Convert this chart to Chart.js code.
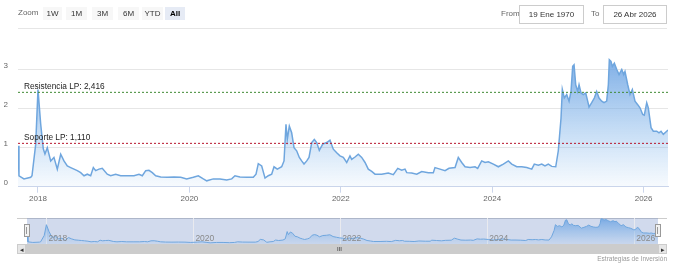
<!DOCTYPE html>
<html><head><meta charset="utf-8">
<script src="https://cdn.jsdelivr.net/npm/chart.js@4.4.1/dist/chart.umd.min.js"></script>
<style>
html,body{margin:0;padding:0;background:#fff;}
body{width:676px;height:267px;position:relative;overflow:hidden;font-family:"Liberation Sans",Arial,sans-serif;}
#main{position:absolute;left:0;top:0;}
#nav{position:absolute;left:27px;top:218px;}
.t{position:absolute;font-size:8px;color:#666;white-space:nowrap;}
.btn{position:absolute;top:7px;height:13px;line-height:13px;background:#f7f7f7;font-size:8px;color:#333;text-align:center;}
.btn.sel{background:#e6ebf5;color:#000;font-weight:bold;}
.box{position:absolute;top:5px;height:17px;line-height:17px;border:1px solid #cccccc;font-size:8px;color:#333;text-align:center;background:#fff;}
.sep{position:absolute;left:18px;top:28px;width:649px;height:1px;background:#e6e6e6;}
.navtop{position:absolute;left:17px;top:218px;width:650px;height:1px;background:#cccccc;}
.handle{position:absolute;top:224px;width:4px;height:11px;background:#f2f2f2;border:1px solid #999;}
.handle i{position:absolute;top:2px;width:1px;height:7px;background:#999;}
.sb{position:absolute;top:244px;height:10px;}
.credit{position:absolute;right:9px;top:255px;font-size:6.5px;color:#999;}
</style></head>
<body>
<canvas id="main" width="676" height="267"></canvas>
<div class="t" style="left:18px;top:8px;">Zoom</div>
<div class="btn" style="left:43px;width:19px;">1W</div>
<div class="btn" style="left:66px;width:21px;">1M</div>
<div class="btn" style="left:92px;width:21px;">3M</div>
<div class="btn" style="left:118px;width:21px;">6M</div>
<div class="btn" style="left:142px;width:21px;">YTD</div>
<div class="btn sel" style="left:165px;width:20px;">All</div>
<div class="t" style="left:501px;top:9px;">From</div>
<div class="box" style="left:519px;width:63px;">19 Ene 1970</div>
<div class="t" style="left:591px;top:9px;">To</div>
<div class="box" style="left:603px;width:62px;">26 Abr 2026</div>
<div class="sep"></div>
<div class="navtop"></div>
<canvas id="nav" width="631" height="26"></canvas>
<div class="handle" style="left:24px;"><i style="left:1px"></i></div>
<div class="handle" style="left:655px;"><i style="left:1px"></i></div>
<div class="sb" style="left:17px;width:650px;background:#cccccc;"></div>
<div class="sb" style="left:17px;width:9px;background:#e6e6e6;border:1px solid #cccccc;box-sizing:border-box;font-size:7px;line-height:9px;text-align:center;color:#333;">&#9666;</div>
<div class="sb" style="left:658px;width:9px;background:#e6e6e6;border:1px solid #cccccc;box-sizing:border-box;font-size:7px;line-height:9px;text-align:center;color:#333;">&#9656;</div>
<div class="sb" style="left:337px;width:8px;font-size:6px;line-height:10px;color:#333;">III</div>
<div class="credit">Estrategias de Inversión</div>
<script>
// ---- data (decimal years) ----
const dates = [2017.736,2017.749,2017.815,2017.904,2017.921,2017.970,
2018.000,2018.036,2018.070,2018.092,2018.123,2018.168,2018.211,2018.255,2018.300,2018.343,2018.387,2018.432,2018.476,2018.519,2018.564,2018.608,2018.651,2018.696,2018.731,2018.762,2018.806,2018.849,2018.915,2018.960,
2019.026,2019.092,2019.180,2019.268,2019.334,2019.378,2019.423,2019.466,2019.510,2019.555,2019.621,2019.708,2019.797,2019.885,2019.964,
2020.052,2020.118,2020.184,2020.229,2020.316,2020.404,2020.493,2020.559,2020.602,2020.668,2020.757,2020.844,2020.880,2020.910,2020.955,2020.999,
2021.042,2021.087,2021.118,2021.161,2021.219,2021.250,2021.276,2021.293,2021.320,2021.351,2021.382,2021.417,2021.452,2021.483,2021.514,2021.550,2021.580,2021.616,2021.650,2021.682,2021.716,2021.761,2021.814,2021.857,2021.901,2021.946,2021.989,
2022.033,2022.078,2022.121,2022.144,2022.188,2022.231,2022.276,2022.320,2022.363,2022.408,2022.452,2022.540,2022.627,2022.694,2022.752,2022.804,2022.848,2022.871,2022.937,
2023.003,2023.069,2023.156,2023.222,2023.244,2023.310,2023.377,2023.429,2023.509,2023.552,2023.597,2023.641,2023.707,2023.773,2023.808,2023.861,2023.905,2023.949,
2024.015,2024.081,2024.147,2024.213,2024.258,2024.324,2024.390,2024.456,2024.522,2024.556,2024.609,2024.654,2024.697,2024.741,2024.786,2024.839,2024.873,2024.909,2024.926,2024.952,2024.984,
2025.015,2025.041,2025.063,2025.081,2025.103,2025.129,2025.147,2025.173,2025.203,2025.235,2025.261,2025.279,2025.314,2025.349,2025.380,2025.411,2025.446,2025.477,2025.512,2025.534,2025.547,2025.569,2025.587,2025.613,2025.645,2025.675,2025.711,2025.737,2025.754,2025.790,2025.820,2025.851,2025.886,2025.922,2025.952,2025.988,
2026.009,2026.041,2026.062,2026.098,2026.128,2026.173,2026.203,2026.230,2026.260,2026.305,2026.322];
const values = [1.05,0.28,0.20,0.24,0.28,1.09,
2.49,1.60,0.97,0.84,1.00,0.66,0.75,0.45,0.83,0.66,0.53,0.49,0.45,0.41,0.36,0.28,0.32,0.28,0.49,0.41,0.45,0.47,0.32,0.28,
0.32,0.28,0.28,0.28,0.32,0.28,0.41,0.42,0.36,0.28,0.25,0.24,0.25,0.24,0.20,
0.24,0.28,0.20,0.15,0.20,0.20,0.17,0.20,0.28,0.25,0.24,0.24,0.32,0.59,0.53,0.22,
0.28,0.32,0.51,0.45,0.51,0.66,1.60,1.21,1.55,1.38,1.00,0.92,0.75,0.66,0.58,0.66,0.75,1.13,1.21,1.13,0.93,1.09,1.13,1.19,0.96,0.87,0.79,
0.75,0.62,0.79,0.70,0.76,0.83,0.75,0.62,0.45,0.39,0.32,0.32,0.35,0.31,0.47,0.42,0.45,0.36,0.35,
0.32,0.39,0.36,0.36,0.49,0.45,0.41,0.47,0.49,0.75,0.62,0.51,0.49,0.51,0.47,0.66,0.62,0.64,
0.58,0.51,0.58,0.66,0.58,0.51,0.51,0.49,0.45,0.58,0.55,0.58,0.53,0.58,0.52,0.51,0.92,1.76,2.49,2.27,2.36,
2.19,2.44,3.08,3.12,2.61,2.44,2.61,2.40,2.36,2.40,2.19,2.04,2.15,2.27,2.44,2.27,2.19,2.15,2.19,2.61,3.25,3.21,3.08,3.16,3.00,2.87,3.00,2.87,2.95,2.61,2.36,2.49,2.19,2.10,2.02,1.85,
1.83,2.15,2.02,1.51,1.42,1.42,1.38,1.42,1.34,1.42,1.45];
const yearTicks = [2018, 2020, 2022, 2024, 2026];
const yTicks = [0, 1, 2, 3];
const resistance = 2.416;
const support = 1.110;
const resistanceLabel = "Resistencia LP";
const supportLabel = "Soporte LP";

const xMin = dates[0], xMax = dates[dates.length - 1];
const points = dates.map((d, i) => ({x: d, y: values[i]}));
const fmt = v => v.toFixed(3).replace('.', ',');

function areaGradient(c, top, bottom) {
  const {chart} = c; const {ctx, chartArea} = chart;
  if (!chartArea) return 'rgba(124,181,236,0.4)';
  const g = ctx.createLinearGradient(0, chartArea.top, 0, chartArea.bottom);
  g.addColorStop(0, top); g.addColorStop(1, bottom);
  return g;
}

const lineLabels = {
  id: 'lineLabels',
  afterDatasetsDraw(chart) {
    const {ctx, chartArea, scales} = chart;
    ctx.save();
    ctx.font = '8.3px "Liberation Sans", Arial, sans-serif';
    ctx.fillStyle = '#222';
    ctx.textBaseline = 'alphabetic';
    ctx.fillText(resistanceLabel + ': ' + fmt(resistance), chartArea.left + 6, scales.y.getPixelForValue(resistance) - 3);
    ctx.fillText(supportLabel + ': ' + fmt(support), chartArea.left + 6, scales.y.getPixelForValue(support) - 3);
    ctx.restore();
  }
};

new Chart(document.getElementById('main'), {
  type: 'line',
  data: {
    datasets: [
      {data: points, borderColor: 'rgb(111,166,222)', borderWidth: 1.5, pointRadius: 0, tension: 0, fill: 'origin',
       backgroundColor: c => areaGradient(c, 'rgba(105,160,225,0.92)', 'rgba(124,181,236,0.06)'), order: 2},
      {data: [{x: xMin, y: resistance}, {x: xMax, y: resistance}], borderColor: '#3f8a34', borderWidth: 1, borderDash: [2, 2], pointRadius: 0, fill: false, order: 1},
      {data: [{x: xMin, y: support}, {x: xMax, y: support}], borderColor: '#b8142c', borderWidth: 1, borderDash: [2, 2], pointRadius: 0, fill: false, order: 1}
    ]
  },
  options: {
    responsive: false, animation: false, events: [],
    layout: {padding: {left: 4, right: 8, top: 50, bottom: 56.3}},
    plugins: {legend: {display: false}, tooltip: {enabled: false}},
    scales: {
      x: {type: 'linear', min: xMin, max: xMax,
        afterBuildTicks: s => { s.ticks = yearTicks.map(v => ({value: v})); },
        afterFit: s => { s.height = 24; },
        grid: {display: true, drawOnChartArea: false, drawTicks: true, tickLength: 6, color: '#ccd6eb'},
        border: {display: true, color: '#ccd6eb'},
        ticks: {autoSkip: false, maxRotation: 0, padding: 1, color: '#666', font: {size: 8, family: '"Liberation Sans", Arial, sans-serif'}, callback: v => String(v)}
      },
      y: {type: 'linear', min: 0, max: 3.5,
        afterBuildTicks: s => { s.ticks = yTicks.map(v => ({value: v})); },
        afterFit: s => { s.width = 14; },
        grid: {color: '#e6e6e6', drawTicks: false},
        border: {display: false},
        ticks: {padding: 10, labelOffset: -4, color: '#666', font: {size: 8, family: '"Liberation Sans", Arial, sans-serif'}, callback: v => String(v)}
      }
    }
  },
  plugins: [lineLabels]
});

const navDecor = {
  id: 'navDecor',
  beforeDraw(chart) {
    const {ctx, chartArea} = chart;
    ctx.save();
    ctx.fillStyle = 'rgba(102,133,194,0.3)';
    ctx.fillRect(chartArea.left, chartArea.top, chartArea.right - chartArea.left, chartArea.bottom - chartArea.top);
    ctx.restore();
  },
  afterDatasetsDraw(chart) {
    const {ctx, scales} = chart;
    ctx.save();
    ctx.font = '8.5px "Liberation Sans", Arial, sans-serif';
    ctx.fillStyle = '#8a8a8a';
    yearTicks.forEach(t => { ctx.fillText(String(t), scales.x.getPixelForValue(t) + 2, 23); });
    ctx.restore();
  }
};

new Chart(document.getElementById('nav'), {
  type: 'line',
  data: {datasets: [{data: points, borderColor: 'rgb(111,166,222)', borderWidth: 1, pointRadius: 0, tension: 0, fill: 'origin',
    backgroundColor: c => areaGradient(c, 'rgba(105,160,225,0.85)', 'rgba(124,181,236,0.1)')}]},
  options: {
    responsive: false, animation: false, events: [],
    layout: {padding: 0},
    plugins: {legend: {display: false}, tooltip: {enabled: false}},
    scales: {
      x: {type: 'linear', min: xMin, max: xMax, display: true,
        afterBuildTicks: s => { s.ticks = yearTicks.map(v => ({value: v})); },
        afterFit: s => { s.height = 0; },
        grid: {color: 'rgba(235,235,240,0.9)', drawTicks: false},
        border: {display: false},
        ticks: {display: false}
      },
      y: {display: false, min: 0, max: 3.35}
    }
  },
  plugins: [navDecor]
});
</script>
</body></html>
